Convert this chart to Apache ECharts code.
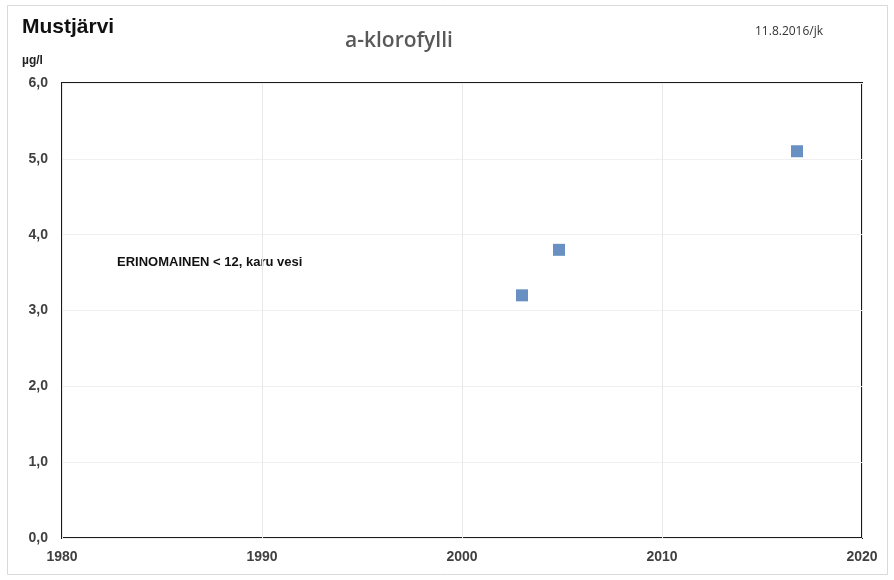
<!DOCTYPE html>
<html><head><meta charset="utf-8">
<script src="https://cdn.jsdelivr.net/npm/echarts@6/dist/echarts.min.js"></script>
<style>html,body{margin:0;padding:0;background:#fff}#c{width:894px;height:580px}</style>
</head><body><div id="c"></div>
<script>
const years = [2003, 2004.85, 2016.75];
const values = [3.2, 3.8, 5.1];
const xTicks = [1980, 1990, 2000, 2010, 2020];
const yTicks = [0, 1, 2, 3, 4, 5, 6];
const titleText = 'Mustjärvi';
const subtitleText = 'a-klorofylli';
const unitText = 'µg/l';
const dateText = '11.8.2016/jk';
const noteText = 'ERINOMAINEN < 12, karu vesi';

const chart = echarts.init(document.getElementById('c'));
const labelStyle = {color:'#404040', fontFamily:'Liberation Sans, Arial', fontWeight:'bold', fontSize:14};
chart.setOption({
  animation:false,
  backgroundColor:'#fff',
  grid:{left:62, right:32, top:83, bottom:42, show:true, borderColor:'#1a1a1a', borderWidth:2},
  xAxis:{type:'value', min:xTicks[0], max:xTicks[xTicks.length-1], interval:10,
    axisLine:{show:false}, axisTick:{show:false},
    splitLine:{show:true, lineStyle:{color:'#e8e8e8', width:1}},
    axisLabel:Object.assign({margin:12, formatter:v=>String(v)}, labelStyle)},
  yAxis:{type:'value', min:yTicks[0], max:yTicks[yTicks.length-1], interval:1,
    axisLine:{show:false}, axisTick:{show:false},
    splitLine:{show:true, lineStyle:{color:'#f0f0f0', width:1}},
    axisLabel:Object.assign({margin:14, formatter:v=>v.toFixed(1).replace('.', ',')}, labelStyle)},
  series:[{type:'scatter', symbol:'rect', symbolSize:12,
    itemStyle:{color:'#4374b3'},
    data: years.map((y,i)=>[y, values[i]])}],
  graphic:[
    {type:'rect', shape:{x:7.5, y:5.5, width:880, height:569}, style:{fill:'none', stroke:'#d9d9d9', lineWidth:1}, silent:true},
    {type:'text', left:22, top:17, style:{text:titleText, fontFamily:'Liberation Sans, Arial', fontWeight:'bold', fontSize:21, fill:'#111'}},
    {type:'text', left:22, top:55, style:{text:unitText, fontFamily:'Liberation Sans, Arial', fontWeight:'bold', fontSize:12, fill:'#222'}},
    {type:'text', left:345, top:31, style:{text:subtitleText, fontFamily:'Open Sans, Noto Sans', fontWeight:600, fontSize:21, fill:'#595959'}},
    {type:'text', left:755, top:26, style:{text:dateText, fontFamily:'Open Sans, Noto Sans', fontSize:12, fill:'#333'}},
    {type:'text', left:117, top:256, style:{text:noteText, fontFamily:'Liberation Sans, Arial', fontWeight:'bold', fontSize:13, fill:'#111'}}
  ]
});
</script></body></html>
